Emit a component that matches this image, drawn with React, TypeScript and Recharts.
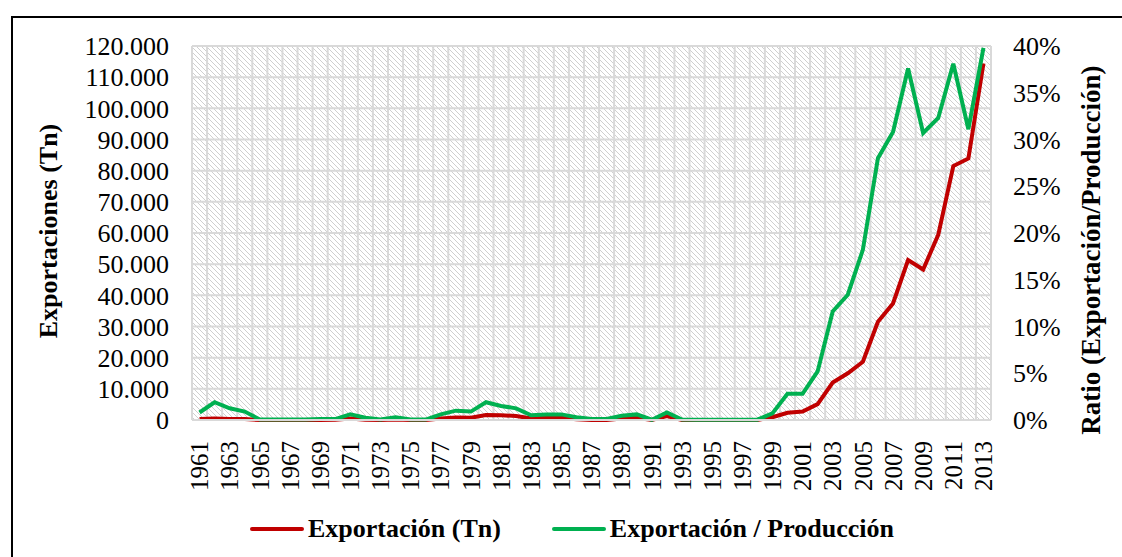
import React from 'react';
import { LineChart, Line, XAxis, YAxis, CartesianGrid, Legend } from 'recharts';

const years = [
  '1961','1962','1963','1964','1965','1966','1967','1968','1969','1970',
  '1971','1972','1973','1974','1975','1976','1977','1978','1979','1980',
  '1981','1982','1983','1984','1985','1986','1987','1988','1989','1990',
  '1991','1992','1993','1994','1995','1996','1997','1998','1999','2000',
  '2001','2002','2003','2004','2005','2006','2007','2008','2009','2010',
  '2011','2012','2013',
];

const exportTn = [
  300, 500, 300, 300, 0, 0, 0, 0, 0, 100,
  500, 100, 0, 200, 0, 0, 500, 800, 700, 1600,
  1500, 1300, 500, 700, 700, 200, 0, 0, 500, 700,
  0, 1300, 0, 0, 0, 0, 0, 0, 900, 2300,
  2700, 5100, 12000, 15000, 18700, 31500, 37400, 51300, 48300, 59400,
  81500, 83900, 114400,
];

const ratio = [
  0.008, 0.019, 0.0125, 0.009, 0.0005, 0.0005, 0.0005, 0.0005, 0.001, 0.001,
  0.006, 0.0025, 0.0005, 0.003, 0.0005, 0.0005, 0.006, 0.01, 0.009, 0.019,
  0.015, 0.0125, 0.005, 0.006, 0.006, 0.003, 0.001, 0.001, 0.0045, 0.006,
  0.0003, 0.008, 0.0005, 0.0003, 0.0003, 0.0003, 0.0003, 0.0003, 0.007, 0.028,
  0.028, 0.052, 0.116, 0.134, 0.182, 0.28, 0.308, 0.376, 0.307, 0.323,
  0.381, 0.311, 0.398,
];

const leftTicks = [0, 10000, 20000, 30000, 40000, 50000, 60000, 70000, 80000, 90000, 100000, 110000, 120000];
const rightTicks = [0, 0.05, 0.1, 0.15, 0.2, 0.25, 0.3, 0.35, 0.4];

const seriesNames = ['Exportación (Tn)', 'Exportación / Producción'];
const seriesColors = ['#C00000', '#00B050'];
const leftTitle = 'Exportaciones (Tn)';
const rightTitle = 'Ratio (Exportación/Producción)';

const data = years.map((y, i) => ({ year: y, exp: exportTn[i], ratio: ratio[i] }));

const FONT = '"Liberation Serif", "Times New Roman", serif';
const W = 1122;
const H = 557;
const M_TOP = 46;
const LEFT_W = 192;
const RIGHT_W = 131;
const X_H = 137;
const PLOT_W = W - LEFT_W - RIGHT_W;
const HALF_CAT = PLOT_W / (2 * years.length);

const fmtThousands = (v: number) => String(v).replace(/\B(?=(\d{3})+(?!\d))/g, '.');
const fmtPct = (v: number) => `${Math.round(v * 100)}%`;

const XTick = (props: any) => {
  const { x, y, payload } = props;
  const ty = y + 19;
  return (
    <text
      x={x}
      y={ty}
      transform={`rotate(-90 ${x} ${ty})`}
      textAnchor="end"
      dy="0.35em"
      fontFamily={FONT}
      fontSize={25}
      fill="#000"
    >
      {payload.value}
    </text>
  );
};

const AxisTitle = (props: any) => {
  const { viewBox, text, dxFromLeft, cy, size } = props;
  const x = viewBox.x + dxFromLeft;
  const y = cy;
  return (
    <text
      x={x}
      y={y}
      transform={`rotate(-90 ${x} ${y})`}
      textAnchor="middle"
      dominantBaseline="central"
      fontFamily={FONT}
      fontSize={size}
      fontWeight="bold"
      fill="#000"
    >
      {text}
    </text>
  );
};

const LegendContent = () => (
  <div style={{ display: 'flex', alignItems: 'center', height: 32, fontFamily: FONT, fontSize: 26, fontWeight: 'bold', color: '#000', whiteSpace: 'nowrap' }}>
    {seriesNames.map((n, i) => (
      <div key={n} style={{ display: 'flex', alignItems: 'center', marginRight: 51 }}>
        <div style={{ width: 54, height: 4, background: seriesColors[i], borderRadius: 2, marginRight: 4 }} />
        <span>{n}</span>
      </div>
    ))}
  </div>
);

export default function App() {
  return (
    <div style={{ position: 'absolute', left: 0, top: 0, width: W, height: H, background: '#fff', overflow: 'hidden' }}>
      <div style={{ position: 'absolute', left: 11, top: 16, width: W + 20, height: H + 20, border: '2px solid #000', boxSizing: 'border-box' }} />
      <div style={{ position: 'absolute', left: 0, top: 0 }}>
        <LineChart width={W} height={H} data={data} margin={{ top: M_TOP, right: 0, bottom: 0, left: 0 }} style={{ fontFamily: FONT }}>
          <defs>
            <pattern id="hatch" width="5" height="5" patternUnits="userSpaceOnUse">
              <rect width="5" height="5" fill="#ffffff" />
              <path d="M0,0 L5,5 M-1,4 L1,6 M4,-1 L6,1" stroke="#cfcfcf" strokeWidth="1" />
            </pattern>
          </defs>
          <CartesianGrid
            yAxisId="left"
            stroke="#d9d9d9"
            strokeWidth={2}
            fill="url(#hatch)"
            verticalCoordinatesGenerator={({ offset }: any) =>
              Array.from({ length: years.length + 1 }, (_, k) => offset.left + (k * offset.width) / years.length)
            }
          />
          <XAxis
            dataKey="year"
            type="category"
            interval={1}
            height={X_H}
            padding={{ left: HALF_CAT, right: HALF_CAT }}
            tickLine={false}
            tickSize={0}
            axisLine={{ stroke: '#d9d9d9', strokeWidth: 2 }}
            tick={<XTick />}
          />
          <YAxis
            yAxisId="left"
            orientation="left"
            width={LEFT_W}
            domain={[0, 120000]}
            ticks={leftTicks}
            interval={0}
            tickFormatter={fmtThousands}
            tickLine={false}
            tickSize={0}
            tickMargin={23}
            axisLine={false}
            tick={{ fill: '#000', fontSize: 26, fontFamily: FONT }}
            label={<AxisTitle text={leftTitle} dxFromLeft={48} cy={231} size={26} />}
          />
          <YAxis
            yAxisId="right"
            orientation="right"
            width={RIGHT_W}
            domain={[0, 0.4]}
            ticks={rightTicks}
            interval={0}
            tickFormatter={fmtPct}
            tickLine={false}
            tickSize={0}
            tickMargin={22}
            axisLine={false}
            tick={{ fill: '#000', fontSize: 26, fontFamily: FONT }}
            label={<AxisTitle text={rightTitle} dxFromLeft={100} cy={250} size={27} />}
          />
          <Line yAxisId="left" dataKey="exp" name={seriesNames[0]} stroke={seriesColors[0]} strokeWidth={4} dot={false} activeDot={false} isAnimationActive={false} />
          <Line yAxisId="right" dataKey="ratio" name={seriesNames[1]} stroke={seriesColors[1]} strokeWidth={4} dot={false} activeDot={false} isAnimationActive={false} />
          <Legend
            layout="horizontal"
            verticalAlign="middle"
            align="center"
            wrapperStyle={{ position: 'absolute', left: 250, top: 513, width: 760, height: 32 }}
            content={<LegendContent />}
          />
        </LineChart>
      </div>
    </div>
  );
}
